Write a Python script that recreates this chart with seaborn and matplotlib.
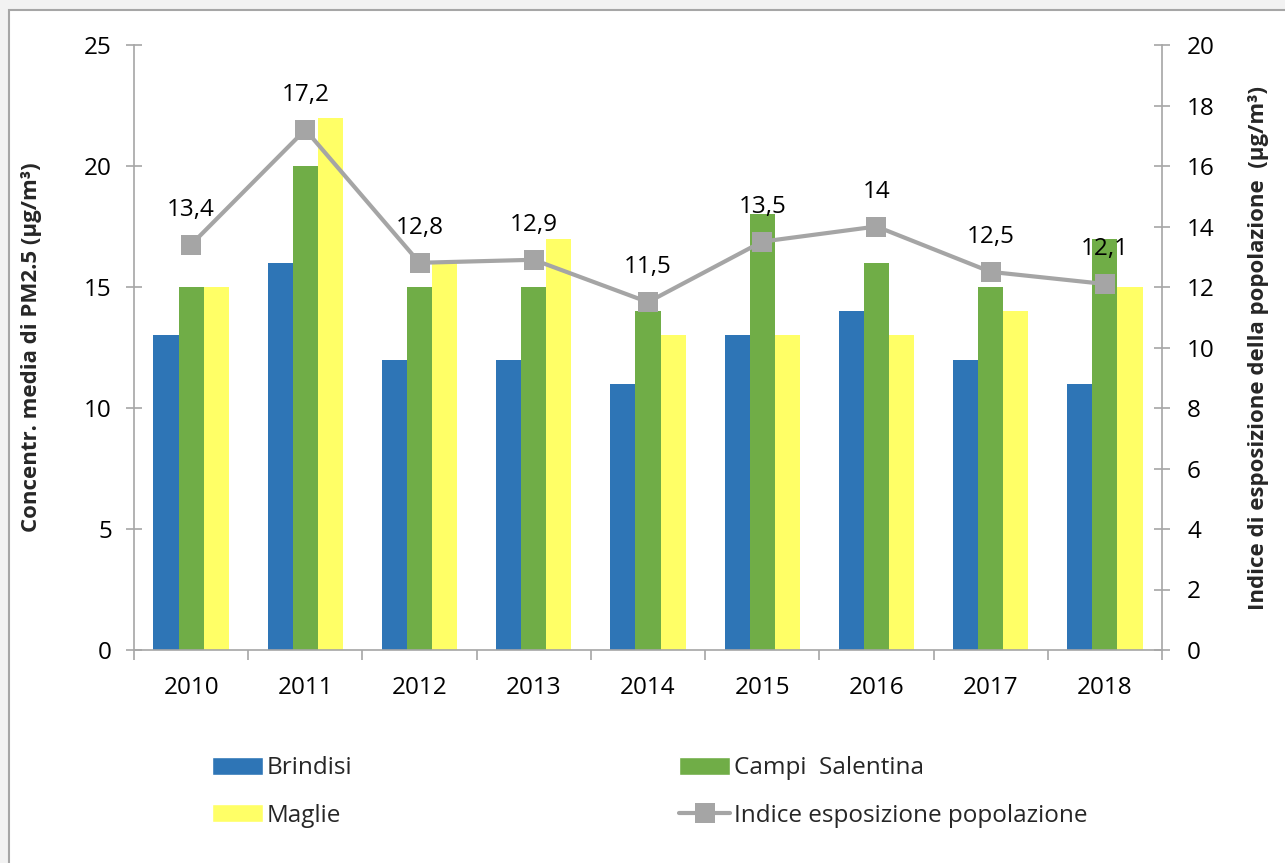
import numpy as np
import pandas as pd
import seaborn as sns
import matplotlib.pyplot as plt
from matplotlib.patches import Rectangle, Patch
from matplotlib.lines import Line2D

# data
years = ["2010", "2011", "2012", "2013", "2014", "2015", "2016", "2017", "2018"]
brindisi = [13, 16, 12, 12, 11, 13, 14, 12, 11]
campi = [15, 20, 15, 15, 14, 18, 16, 15, 17]
maglie = [15, 22, 16, 17, 13, 13, 13, 14, 15]
indice = [13.4, 17.2, 12.8, 12.9, 11.5, 13.5, 14, 12.5, 12.1]

stations = ["Brindisi", "Campi  Salentina", "Maglie"]
colors = ["#2E75B6", "#70AD47", "#FFFF66"]
line_color = "#A5A5A5"
axis_color = "#A6A6A6"

df = pd.DataFrame({
    "anno": years * 3,
    "stazione": np.repeat(stations, len(years)),
    "valore": brindisi + campi + maglie,
})

sns.set_theme(style="white")
plt.rcParams["font.family"] = ["Open Sans", "DejaVu Sans"]

fig = plt.figure(figsize=(12.85, 8.63), dpi=100, facecolor="#F2F2F2")
fig.patches.append(Rectangle((9 / 1285, -0.1), 1.2, 1 - 10 / 863 + 0.1,
                             transform=fig.transFigure, facecolor="white",
                             edgecolor=axis_color, lw=1.5, zorder=-10))

ax = fig.add_axes([134 / 1285, 1 - 650 / 863, (1162 - 134) / 1285, (650 - 45) / 863])
ax.set_facecolor("none")

sns.barplot(data=df, x="anno", y="valore", hue="stazione", palette=colors,
            width=0.66, linewidth=0, saturation=1, ax=ax, legend=False)

ax.set_ylim(0, 25)
ax.set_yticks(range(0, 26, 5))
ax.set_xlim(-0.5, len(years) - 0.5)
ax.set_xlabel("")
ax.set_ylabel("Concentr. media di PM2.5 (µg/m³)", fontsize=16, fontweight="bold",
              labelpad=30)

ax2 = ax.twinx()
sns.lineplot(x=np.arange(len(years)), y=indice, ax=ax2, color=line_color,
             linewidth=3, marker="s", markersize=15, markeredgewidth=0)
ax2.set_ylim(0, 20)
ax2.set_yticks(range(0, 21, 2))
ax2.set_xlim(-0.5, len(years) - 0.5)
ax2.set_ylabel("Indice di esposizione della popolazione  (µg/m³)", fontsize=16,
               fontweight="bold", labelpad=24, rotation=90)

for i, v in enumerate(indice):
    txt = f"{v:g}".replace(".", ",")
    ax2.annotate(txt, (i, v), xytext=(0, 25), textcoords="offset points",
                 ha="center", va="center", fontsize=17.5, color="black")

# spines and ticks
for a in (ax, ax2):
    for s in a.spines.values():
        s.set_visible(False)
ax.spines["left"].set_visible(True)
ax.spines["bottom"].set_visible(True)
ax2.spines["right"].set_visible(True)
for s in (ax.spines["left"], ax.spines["bottom"], ax2.spines["right"]):
    s.set_color(axis_color)
    s.set_linewidth(1.2)

ax.tick_params(axis="y", direction="inout", length=12, width=1.2,
               color=axis_color, labelsize=17.5, labelcolor="black", pad=10, left=True)
ax2.tick_params(axis="y", direction="inout", length=12, width=1.2,
                color=axis_color, labelsize=17.5, labelcolor="black", pad=12, right=True)
ax.tick_params(axis="x", which="major", length=0, labelsize=17.5, labelcolor="black", pad=19)
ax.set_xticks(np.arange(-0.5, len(years)), minor=True)
ax.tick_params(axis="x", which="minor", direction="out", length=7, width=1.2,
               color=axis_color, bottom=True)

# legend
handles = [
    Patch(facecolor=colors[0], label="Brindisi"),
    Patch(facecolor=colors[2], label="Maglie"),
    Patch(facecolor=colors[1], label="Campi  Salentina"),
    Line2D([], [], color=line_color, lw=3, marker="s", markersize=15,
           markeredgewidth=0, label="Indice esposizione popolazione"),
]
fig.legend(handles=handles, ncol=2, loc="center left",
           bbox_to_anchor=(190 / 1285, 1 - 792 / 863), frameon=False,
           fontsize=17.5, handlelength=2.1, handleheight=0.8,
           handletextpad=0.15, columnspacing=13.45, labelspacing=0.95)

fig.savefig("out.png", dpi=100, facecolor=fig.get_facecolor())
